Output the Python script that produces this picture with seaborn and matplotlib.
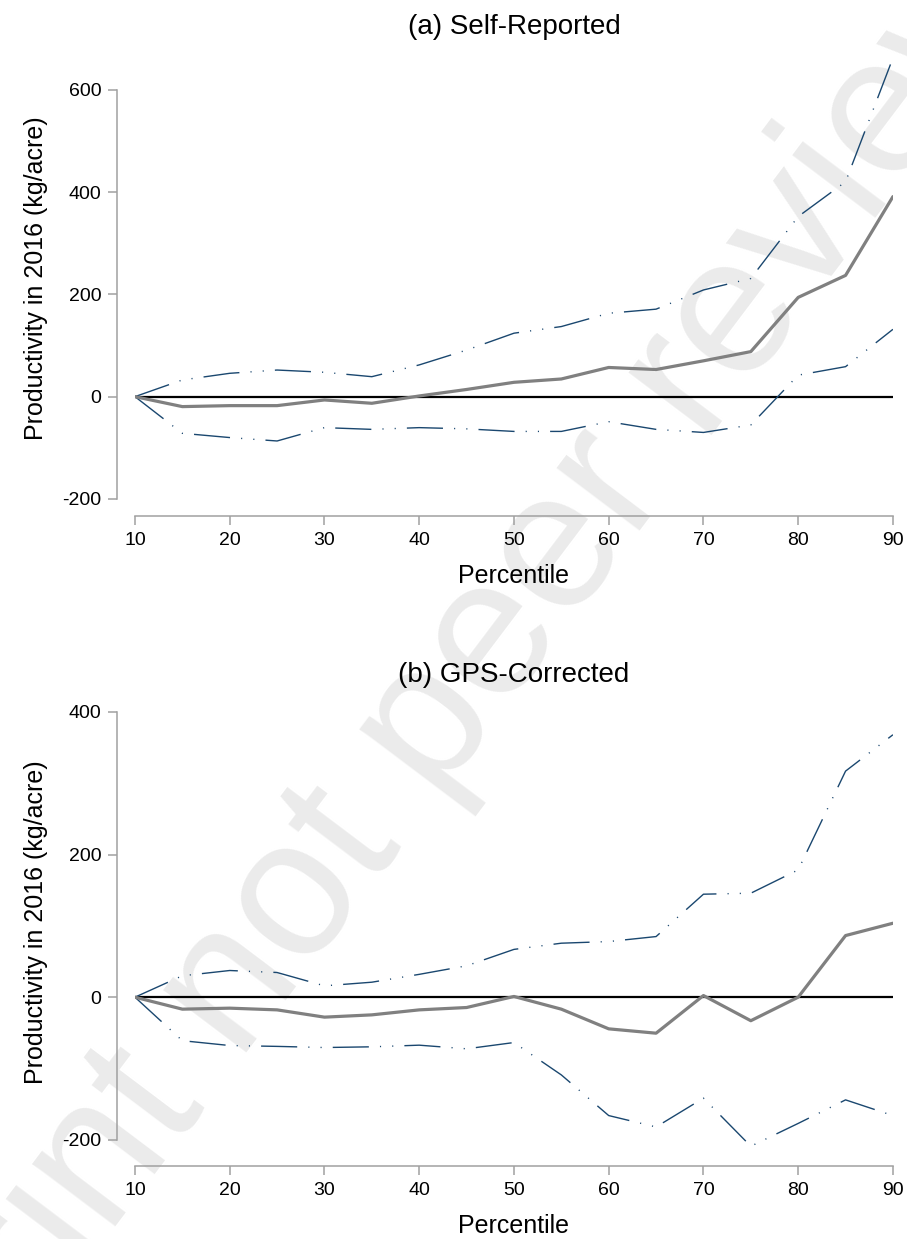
import numpy as np
import matplotlib.pyplot as plt
import seaborn as sns
import pandas as pd

# percentiles on the x axis
pct = [10, 15, 20, 25, 30, 35, 40, 45, 50, 55, 60, 65, 70, 75, 80, 85, 90]

# (a) self-reported productivity: estimate and CI bounds
self_mean = [0, -19.5, -17.6, -17.6, -6.5, -13, 1.3, 14, 28, 34.5, 57, 53, 70, 88, 194, 237, 391]
self_upper = [0, 32.6, 45.6, 52, 47.6, 39, 62, 91, 124, 137, 163, 171, 208.5, 231, 352, 420, 662]
self_lower = [0, -71.7, -80, -86.7, -60.6, -64, -60.6, -63, -68, -68, -49, -64, -70, -55.4, 42, 58.6, 131.6]

# (b) GPS-corrected productivity
gps_mean = [0, -16.8, -15.4, -17.8, -28, -24.8, -17.8, -14.5, 1, -16.8, -44.4, -50.5, 2.3, -33, 0, 86.4, 103.7]
gps_upper = [0, 30, 37.4, 34.6, 15.9, 21, 32, 44, 67, 75.7, 78, 85, 144.4, 145.8, 178.5, 317, 368]
gps_lower = [0, -61, -67.8, -69, -70.6, -69.6, -67.3, -72.4, -63.6, -109, -166, -182, -141.6, -209, -177, -144, -166]

titles = ['(a) Self-Reported', '(b) GPS-Corrected']
yticks = [[-200, 0, 200, 400, 600], [-200, 0, 200, 400]]
ylims = [(-200, 662), (-210, 421)]

sns.set_style('white')
plt.rcParams['font.family'] = ['Liberation Sans', 'DejaVu Sans']
plt.rcParams['lines.scale_dashes'] = False
plt.rcParams['axes.unicode_minus'] = False
plt.rcParams['text.color'] = 'black'
plt.rcParams['axes.labelcolor'] = 'black'

navy = '#1a476f'
ci_style = (0, (26, 8, 0.8, 8, 0.8, 8))

fig = plt.figure(figsize=(9.07, 12.39), dpi=100)
ax1 = fig.add_axes([0.1488, 0.5973, 0.8357, 0.3559])
ax2 = fig.add_axes([0.1488, 0.0743, 0.8357, 0.3632])

# watermark behind everything
fig.text(0.49, 0.43, 'Preprint not peer reviewed', rotation=53, fontsize=141,
         color='#ebebeb', ha='center', va='center', zorder=-1)

panels = [(ax1, self_mean, self_upper, self_lower), (ax2, gps_mean, gps_upper, gps_lower)]
for i, (ax, mean, upper, lower) in enumerate(panels):
    ax.set_facecolor('none')
    ax.axhline(0, color='black', lw=1.6, zorder=2)
    sns.lineplot(x=pct, y=upper, ax=ax, color=navy, lw=1.0, linestyle=ci_style, zorder=3)
    sns.lineplot(x=pct, y=lower, ax=ax, color=navy, lw=1.0, linestyle=ci_style, zorder=3)
    sns.lineplot(x=pct, y=mean, ax=ax, color='#808080', lw=2.3, zorder=4)

    ax.set_xlim(10, 90)
    ax.set_ylim(*ylims[i])
    ax.set_xticks([10, 20, 30, 40, 50, 60, 70, 80, 90])
    ax.set_yticks(yticks[i])
    ax.spines[['top', 'right']].set_visible(False)
    ax.spines['left'].set_position(('outward', 12.7))
    ax.spines['bottom'].set_position(('outward', 12.2 if i == 0 else 13.5))
    ax.spines['left'].set_bounds(-200, yticks[i][-1])
    ax.spines['bottom'].set_bounds(10, 90)
    for s in ['left', 'bottom']:
        ax.spines[s].set_color('#a0a0a0')
        ax.spines[s].set_linewidth(1.1)
    ax.tick_params(axis='both', which='major', length=6.5, width=1.1, color='#a0a0a0',
                   labelsize=14, pad=5, labelcolor='black', left=True, bottom=True)
    ax.set_xlabel('Percentile', fontsize=18, labelpad=11, color='black')
    ax.set_ylabel('Productivity in 2016 (kg/acre)', fontsize=18, labelpad=10, color='black')

fig.text(514 / 907, 1 - 27 / 1239, titles[0], fontsize=20, ha='center', va='center', color='black')
fig.text(514 / 907, 1 - 675 / 1239, titles[1], fontsize=20, ha='center', va='center', color='black')

fig.savefig('out.png', dpi=100, facecolor='white')
